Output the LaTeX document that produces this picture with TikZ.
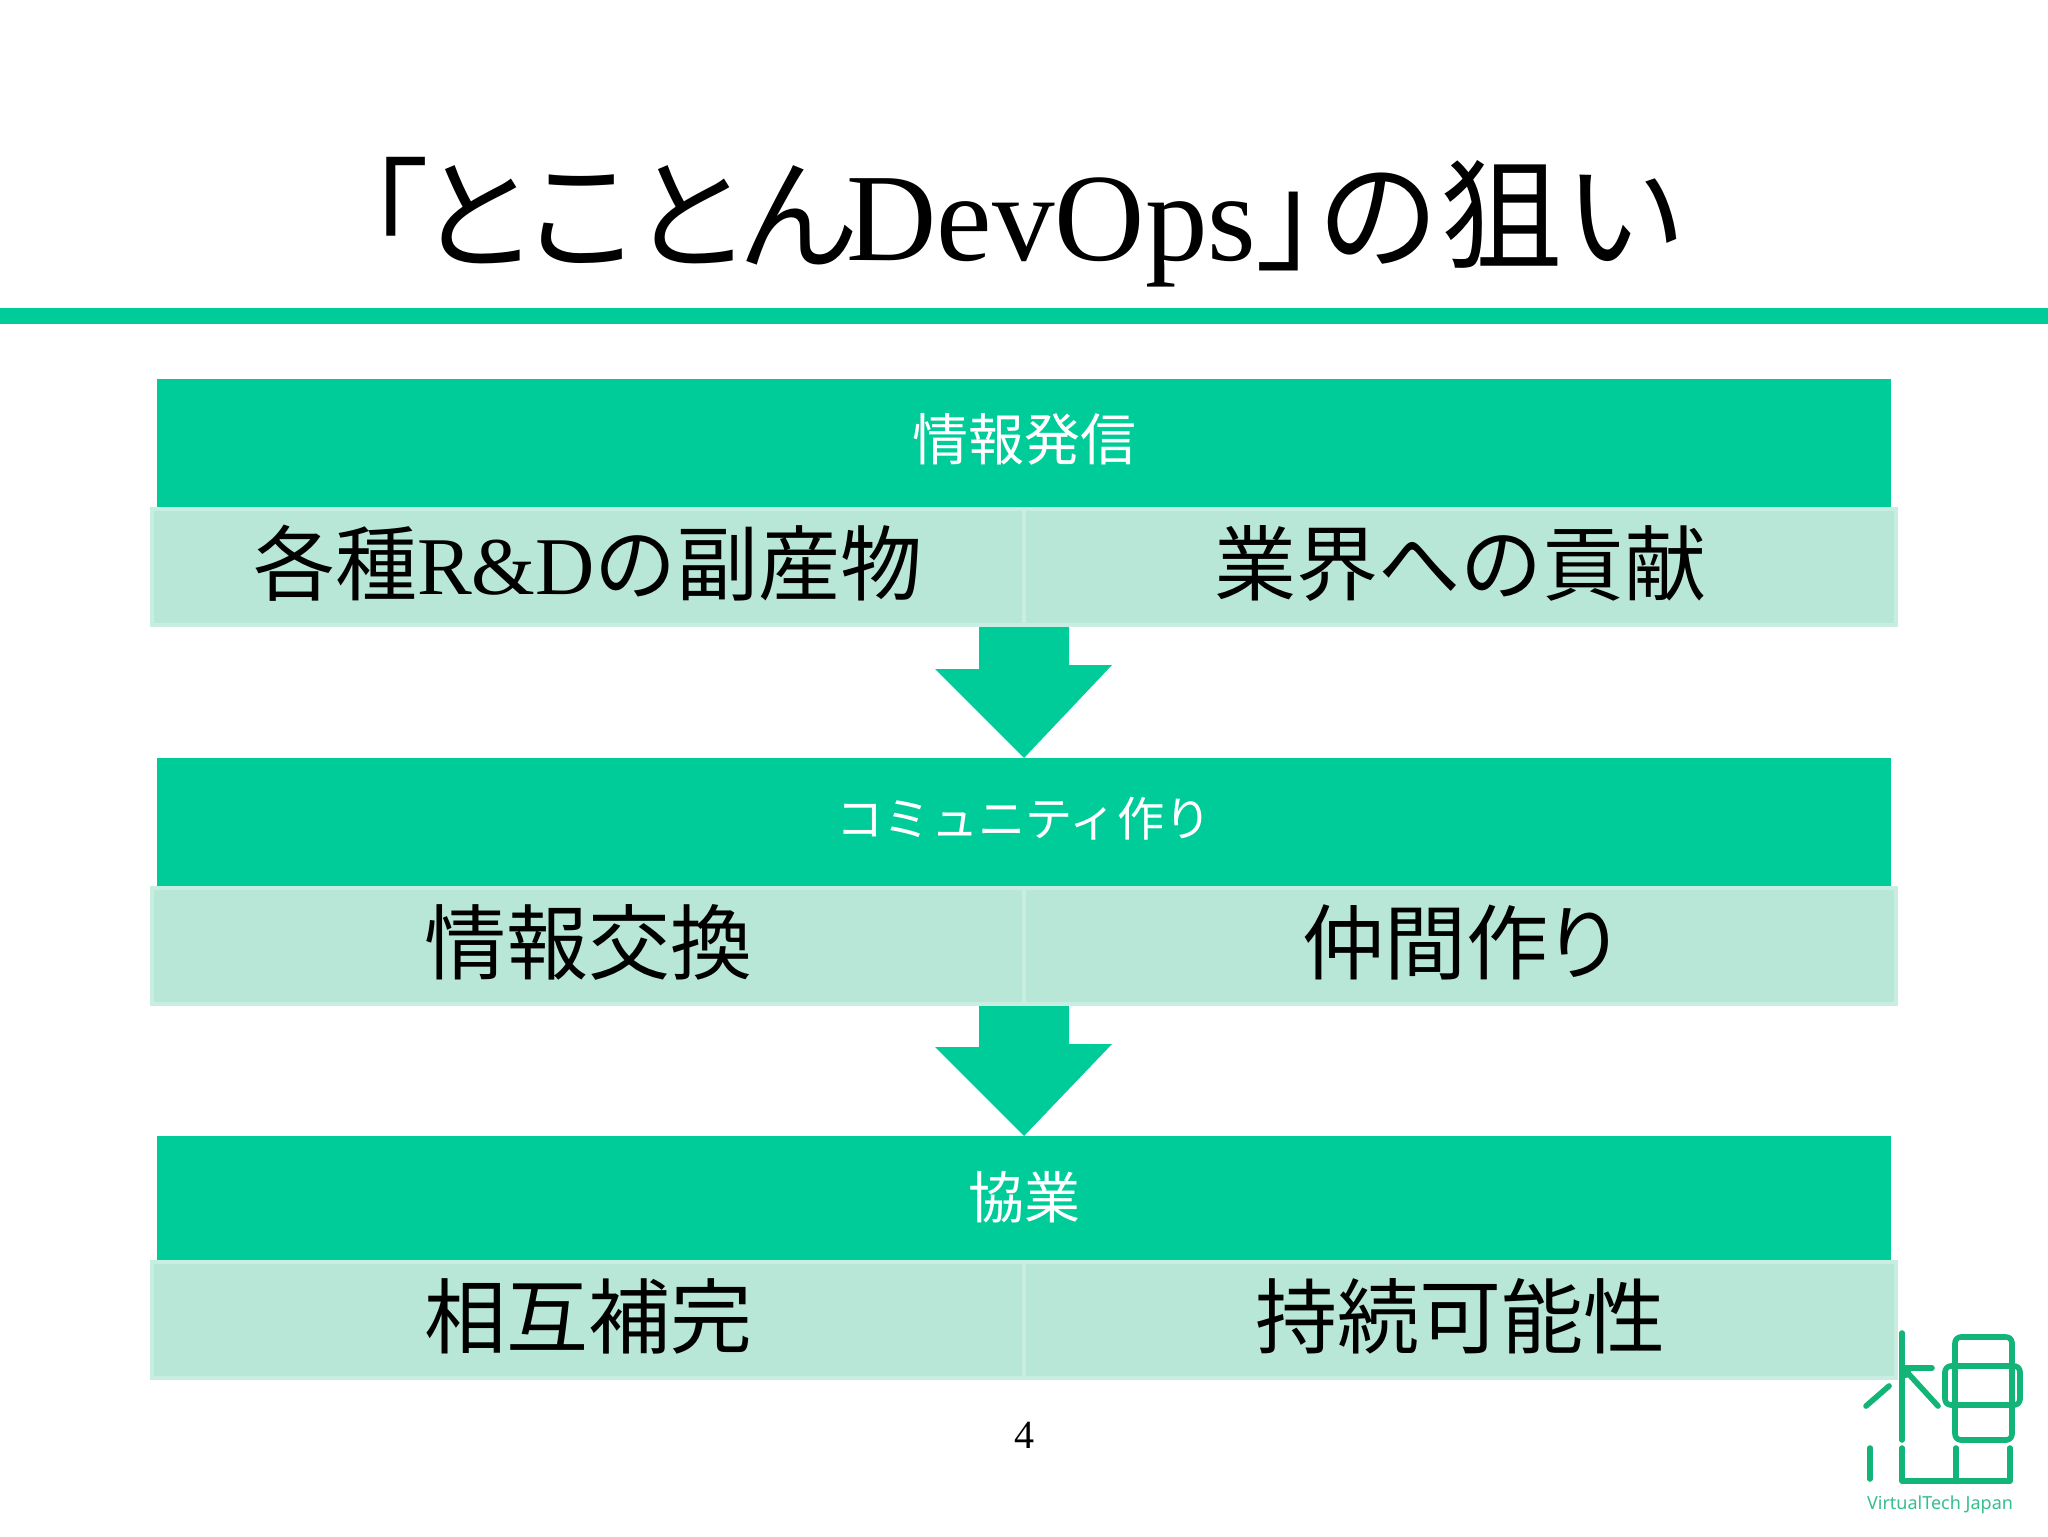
\documentclass[tikz,border=0pt]{standalone}
\usepackage{fontspec}
\setmainfont{Liberation Serif}
\newfontfamily\jp{Noto Sans CJK JP}
\newfontfamily\jpp[RawFeature=+palt]{Noto Sans CJK JP}
\newfontfamily\brandfont{Noto Sans}
\definecolor{teal1}{HTML}{00CC99}
\definecolor{body1}{HTML}{B8E7D7}
\definecolor{edge1}{HTML}{C8EEE2}
\definecolor{logo1}{HTML}{12B478}
\newcommand{\up}[1]{\raisebox{-13.6pt}[0pt][0pt]{#1}}
\tikzset{
 x=0.5pt,y=-0.5pt,
 headbox/.style={fill=teal1,minimum width=867pt,inner sep=0pt,outer sep=0pt},
 headlabel/.style={inner sep=0pt,outer sep=0pt,text=white,font=\jp\fontsize{28pt}{30pt}\selectfont},
 cellbox/.style={fill=body1,draw=edge1,line width=2pt,minimum width=436pt,minimum height=58pt,inner sep=0pt,outer sep=0pt,text=black,font=\jp\fontsize{41pt}{46pt}\selectfont},
 flowarrow/.style={fill=teal1,draw=none},
 logoline/.style={draw=logo1,line width=2.8pt,line cap=round,line join=round},
}
\newcommand{\blockarrow}[2]{\fill[flowarrow] (#1) ++(-45,2) -- ++(90,0) -- ++(0,38) -- ++(43,0) -- (#2) -- ++(-89,-89) -- ++(44,0) -- cycle;}
\begin{document}
\begin{tikzpicture}
\useasboundingbox (0,0) rectangle (2048,1536);
\fill[white] (0,0) rectangle (2048,1536);
\node[inner sep=0pt,font=\fontsize{62.5pt}{66pt}\selectfont] (title) at (1024,222) {{\jpp\fontsize{61pt}{66pt}\selectfont 「\kern-3pt とことん}\kern-4.5pt DevOps\kern1pt{\jpp\fontsize{61pt}{66pt}\selectfont 」\kern0pt の\kern2pt 狙\kern2pt い}};
\fill[teal1] (0,308) rectangle (2048,324);

\node[headbox,minimum height=64pt] (h1) at (1024,443) {};
\node[headlabel] (h1t) at (1024,439) {情報発信};
\node[cellbox,anchor=north east] (a1) at (1024,509) {\up{各種{\rmfamily R\&D}の副産物}};
\node[cellbox,anchor=north west] (b1) at (1024,509) {\up{業界への貢献}};

\node[headbox,minimum height=64pt] (h2) at (1024,822) {};
\node[headlabel,font=\jp\fontsize{23.6pt}{26pt}\selectfont] (h2t) at (1024,819) {コミュニティ作り};
\node[cellbox,anchor=north east] (a2) at (1024,888) {\up{情報交換}};
\node[cellbox,anchor=north west] (b2) at (1024,888) {\up{\jpp 仲間作り}};

\node[headbox,minimum height=62pt] (h3) at (1024,1198) {};
\node[headlabel] (h3t) at (1024,1197) {協業};
\node[cellbox,anchor=north east] (a3) at (1024,1262) {\up{相互補完}};
\node[cellbox,anchor=north west] (b3) at (1024,1262) {\up{持続可能性}};

\blockarrow{a1.south east}{h2.north}
\blockarrow{a2.south east}{h3.north}

\node[inner sep=0pt,font=\fontsize{20pt}{24pt}\selectfont] (pg) at (1024,1435) {4};

\draw[logoline] (1902,1333) -- (1902,1440);
\draw[logoline] (1902,1368) -- (1932,1368);
\draw[logoline] (1905,1370) -- (1938,1406);
\draw[logoline] (1889,1386) -- (1866,1406);
\fill[logo1] (1905,1372) circle (6);
\draw[logoline,rounded corners=3pt] (1955,1337) rectangle (2012,1440);
\draw[logoline,rounded corners=3pt] (1945,1366) rectangle (2020,1405);
\draw[logoline] (1870,1448) -- (1870,1479);
\draw[logoline] (1902,1448) -- (1902,1481) -- (2010,1481) -- (2010,1448);
\draw[logoline] (1956,1448) -- (1956,1481);
\node[inner sep=0pt,text=logo1!85,font=\brandfont\fontsize{9pt}{11pt}\selectfont] (brand) at (1940,1505) {VirtualTech Japan};
\end{tikzpicture}
\end{document}
